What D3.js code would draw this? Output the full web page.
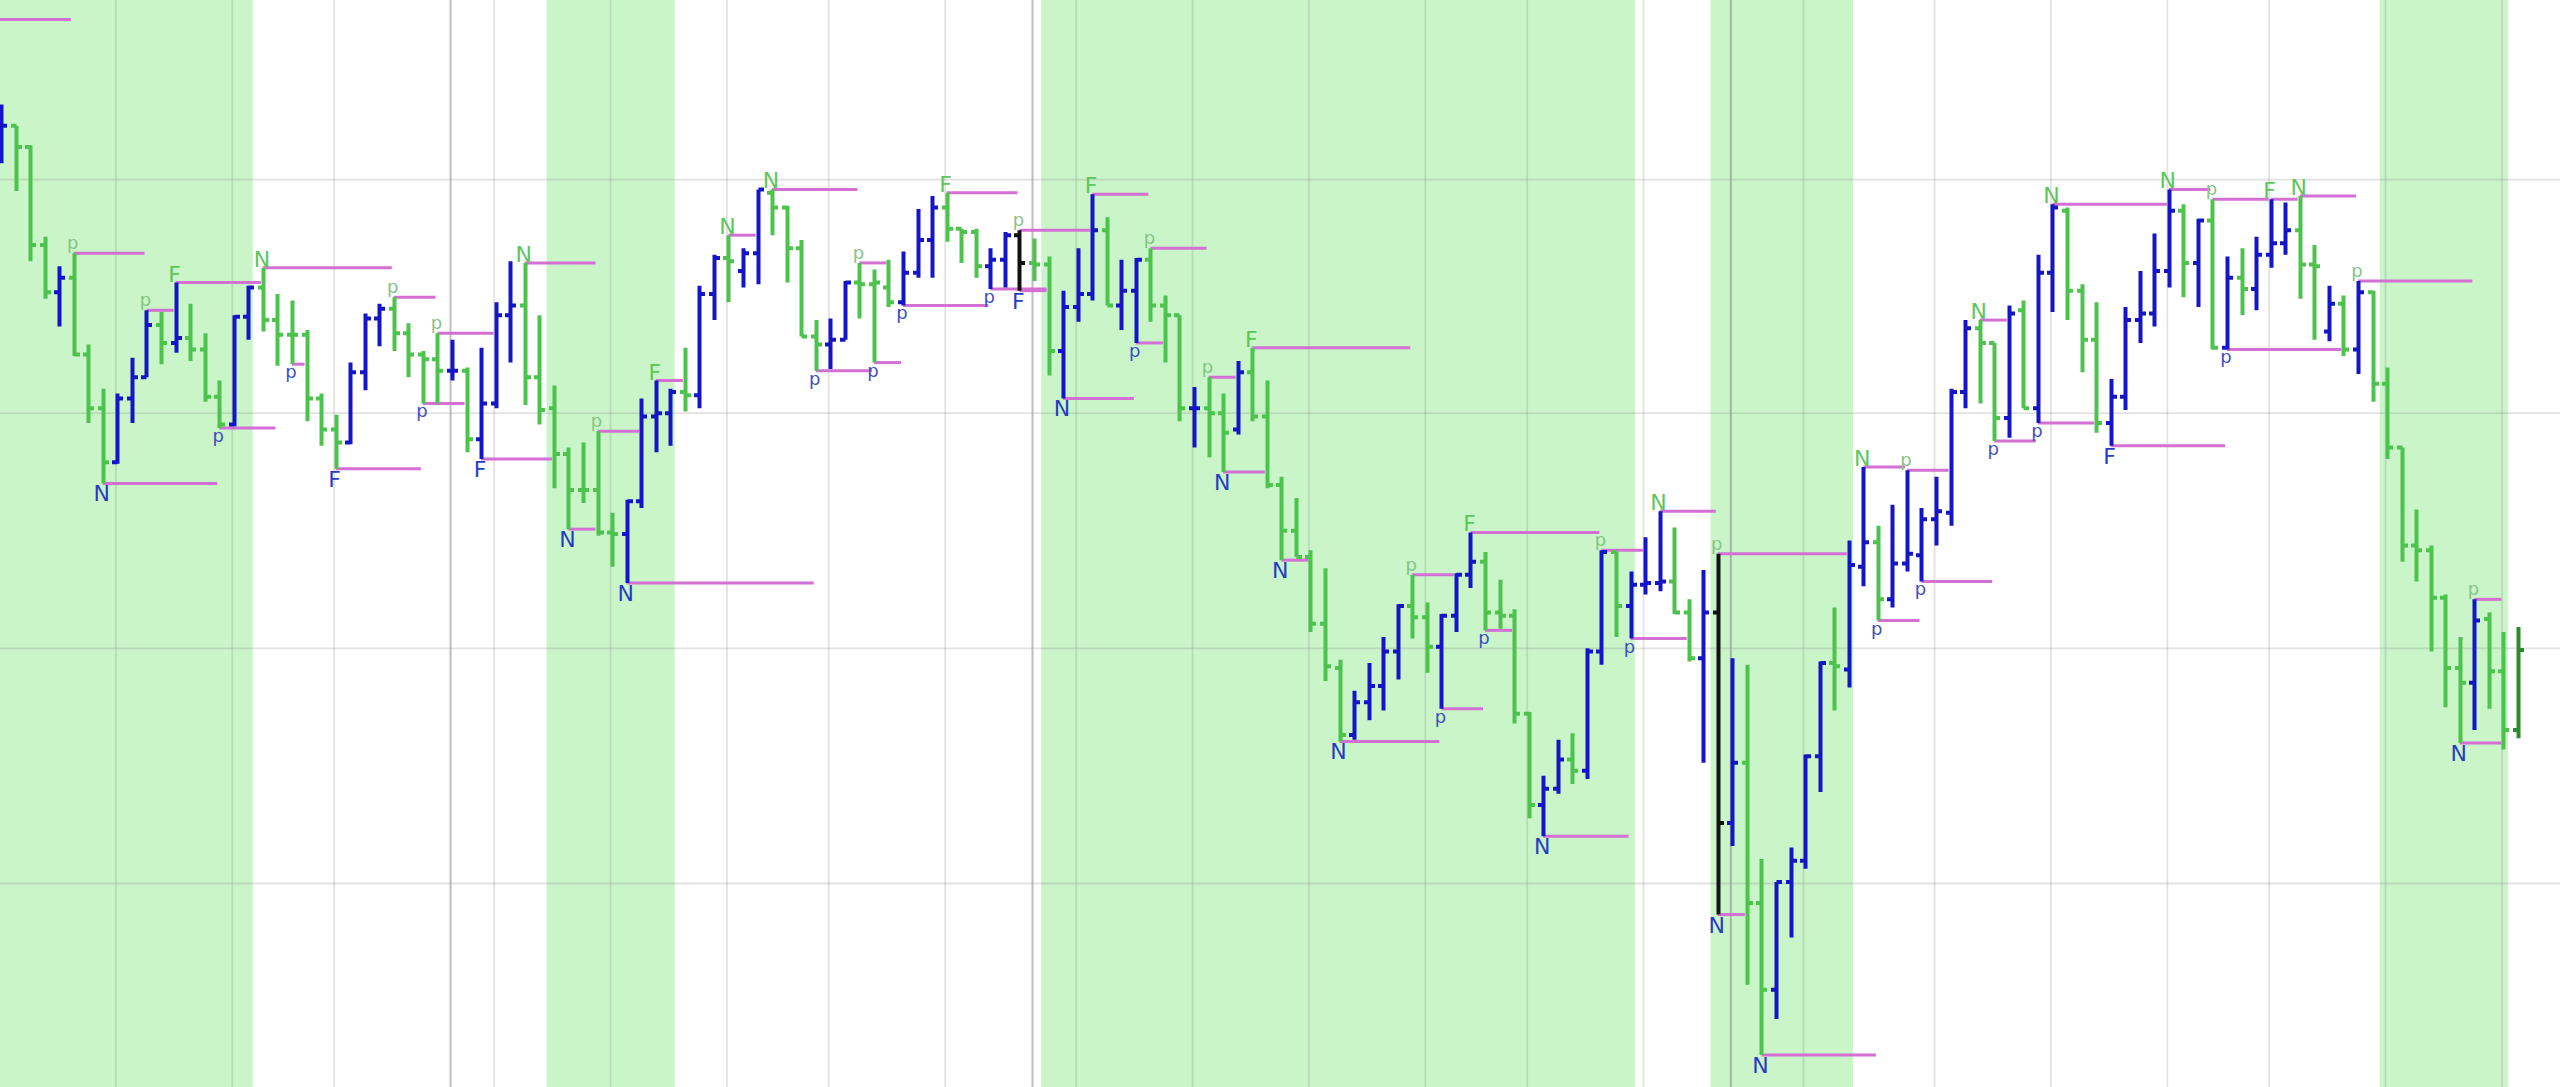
<!DOCTYPE html>
<html>
<head>
<meta charset="utf-8">
<script src="https://cdn.jsdelivr.net/npm/d3@7"></script>
<style>
html,body{margin:0;padding:0;background:#fff;overflow:hidden}
svg{display:block}
</style>
</head>
<body>
<svg id="chart" width="2560" height="1087"></svg>
<script>
// ---------------- DATA (price points, bar index = time) ----------------
const highs = [
636,623,611,555,537,545,489,462,459,481,
510,509,527,514,496,467,507,525,536,520,
516,498,459,446,478,508,514,518,502,485,
496,492,475,487,515,540,539,507,464,426,
429,436,386,394,456,467,462,487,525,544,
556,548,584,584,574,553,504,505,528,539,
535,541,546,572,580,582,560,560,548,558,
559,554,543,522,548,581,567,541,542,548,
519,507,463,469,459,479,487,467,408,395,
363,352,296,277,294,310,330,348,331,324,
349,374,362,345,327,264,225,247,251,303,
363,362,350,371,387,377,333,351,361,297,
293,174,160,181,238,295,328,369,414,378,
391,412,389,408,462,504,504,490,513,516,
544,575,573,526,515,468,512,534,557,584,
575,566,578,543,548,555,578,576,580,550,
525,519,528,522,475,426,388,366,336,310,
333,325,313,316];
const lows = [
600,583,540,517,500,482,441,404,416,441,
469,477,484,479,454,438,439,492,497,476,
477,442,427,413,428,461,488,485,469,453,
453,467,423,419,450,478,452,440,401,376,
392,372,353,343,389,423,427,448,450,504,
515,524,526,556,527,494,473,474,492,505,
478,512,513,530,530,552,539,530,523,524,
522,528,470,456,503,516,513,498,490,503,
478,442,426,420,411,434,442,401,357,359,
313,283,246,247,259,265,284,309,288,266,
313,340,314,315,257,199,188,214,220,223,
293,310,309,336,338,324,295,233,140,182,
97,54,76,126,168,215,265,279,341,320,
328,350,344,366,378,450,453,430,432,450,
441,509,504,472,435,427,449,490,500,524,
518,512,486,486,507,510,536,544,517,492,
491,482,471,454,419,356,344,301,267,245,
253,266,241,248];
const opens = [
610,623,610,550,521,530,483,450,417,456,
469,501,490,493,486,457,440,506,524,504,
495,495,456,437,429,472,505,511,496,483,
480,473,473,431,453,507,513,469,450,422,
400,400,374,373,393,445,447,460,458,520,
542,534,545,582,573,548,494,489,492,527,
526,524,515,533,553,573,560,558,537,541,
556,539,538,485,512,520,559,513,522,541,
513,507,450,450,447,437,472,445,403,375,
359,318,291,250,270,280,301,329,322,304,
323,348,356,325,323,263,207,217,235,228,
301,362,329,342,343,344,325,297,325,196,
233,147,94,160,173,237,294,290,353,368,
333,355,360,382,386,460,499,490,444,510,
450,533,571,522,492,441,457,504,508,534,
571,539,565,487,530,523,544,551,559,538,
497,514,486,521,465,426,366,363,334,291,
282,321,289,253];
const closes = [
623,610,550,521,530,483,450,417,456,469,
501,490,493,486,457,440,506,524,504,495,
495,456,437,429,472,505,511,496,483,480,
473,473,431,453,507,513,469,449,422,400,
400,374,373,393,445,447,460,458,520,542,
540,545,584,573,548,494,489,492,527,526,
527,515,533,553,573,560,558,537,541,556,
539,538,485,512,520,559,513,522,541,513,
507,450,450,447,435,472,445,403,375,359,
318,292,250,270,280,301,329,322,304,323,
348,356,325,323,263,207,217,235,228,301,
362,329,342,343,344,325,297,325,196,233,
147,94,160,173,237,294,292,354,368,333,
355,361,382,387,460,499,490,444,508,450,
533,573,522,492,441,457,504,508,534,571,
539,565,487,530,523,544,551,559,538,537,
514,486,521,465,426,366,363,334,291,282,
320,289,253,302];
// bar class: g = green, b = blue, k = black, d = dark green
const barClass = (
"bgggbgggbb"+"bgbgggbbgg"+"ggggbbbggg"+"gbgbbbgggg"+"gggbbbbgbb"+
"gbbggggbbg"+"ggbbbgggbb"+"kggbbbgbbg"+"ggbggbgggg"+"gggbbbbggb"+
"bbggggbbgb"+"bgbbbggbkb"+"ggbbbbgbbg"+"bbbbbbggbg"+"bbgggbbbbb"+
"gbgbgbbbgg"+"bgbggggggg"+"bggd").split("");

// pivot markers: bar index, text, side (hi/lo), bar where the level line ends
const pivotBar = [5,7,10,12,15,18,20,23,27,29, 30,33,36,39,41,43,45,50,53,56,
  59,60,62,65,68,70,70,73,75,78, 79,83,84,86,88,92,97,99,101,102,
  106,110,112,114,118,118,121,128,129,131, 132,136,137,140,141,145,149,152,153,156,
  158,162,169,170];
const pivotText = ["p","N","p","F","p","N","p","F","p","p", "p","F","N","N","p","N","F","N","N","p",
  "p","p","p","F","p","p","F","N","F","p", "p","p","N","F","N","N","p","p","F","p",
  "N","p","p","N","p","N","N","N","p","p", "p","N","p","p","N","F","N","p","p","F",
  "N","p","N","p"];
const pivotSide = ["hi","lo","hi","hi","lo","hi","lo","lo","hi","lo", "hi","lo","hi","lo","hi","lo","hi","hi","hi","lo",
  "hi","lo","lo","hi","lo","hi","lo","lo","hi","lo", "hi","hi","lo","hi","lo","lo","hi","lo","hi","lo",
  "lo","hi","lo","hi","hi","lo","lo","hi","lo","hi", "lo","hi","lo","lo","hi","lo","hi","hi","lo","hi",
  "hi","hi","lo","hi"];
const pivotLineEnd = [10,15,12,18,19,27,21,29,30,32, 34,38,41,41,44,56,47,52,59,60,
  61,62,68,70,72,75,72,78,79,80, 83,85,87,97,90,99,100,102,110,104,
  112,113,116,118,127,120,129,131,132,134, 137,138,140,144,149,153,152,156,161,158,
  162,170,172,172];
// a level line carried in from before the first visible bar
const carryLineStart = [-5];
const carryLineEnd = [4.8];
const carryLineLevel = [688];

// shaded sessions (bar index ranges)
const bandStart = [-5, 38, 72, 118, 164];
const bandEnd   = [17, 46, 112, 127, 172];
// time grid (bar indices) and price grid levels
const timeGrid = [8,16,23,31,34,42,50,57,65,71,74,82,90,98,105,113,119,124,133,141,149,156,164,172];
const timeGridMajor = [31,71,119];
const priceGrid = [590,447,303,159];

// ---------------- DRAWING ----------------
const W = 2560, H = 1087;
const svg = d3.select("#chart");
const x = d3.scaleLinear().domain([0, 173]).range([1, 2518]);
const y = d3.scaleLinear().domain([34.4, 700]).range([H, 0]);

const colors = {g:"#4cc34c", b:"#1515c8", k:"#111111", d:"#2b8c2b"};

svg.append("rect").attr("width", W).attr("height", H).attr("fill", "#ffffff");

// bands
svg.append("g").selectAll("rect").data(bandStart.map((s,i)=>[s, bandEnd[i]])).join("rect")
  .attr("x", d => x(d[0]-0.5))
  .attr("y", 0)
  .attr("width", d => x(d[1]+0.3) - x(d[0]-0.5))
  .attr("height", H)
  .attr("fill", "#c9f5c9");

// grid
const grid = svg.append("g");
grid.selectAll("line.v").data(timeGrid).join("line")
  .attr("class","v")
  .attr("x1", d => x(d) - 1.5).attr("x2", d => x(d) - 1.5)
  .attr("y1", 0).attr("y2", H)
  .attr("stroke", d => timeGridMajor.includes(d) ? "rgba(110,110,110,0.45)" : "rgba(140,140,140,0.25)")
  .attr("stroke-width", d => timeGridMajor.includes(d) ? 2 : 1.8);
grid.selectAll("line.h").data(priceGrid).join("line")
  .attr("class","h")
  .attr("x1", 0).attr("x2", W)
  .attr("y1", d => y(d)).attr("y2", d => y(d))
  .attr("stroke", "rgba(140,140,140,0.25)")
  .attr("stroke-width", 1.8);

// level lines
const lines = pivotBar.map((b,i) => ({
  x1: x(b), x2: x(pivotLineEnd[i]) - 2,
  v: pivotSide[i] === "hi" ? highs[b] : lows[b]
}));
carryLineStart.forEach((s,i) => lines.push({x1: x(s), x2: x(carryLineEnd[i]), v: carryLineLevel[i]}));
svg.append("g").selectAll("line").data(lines).join("line")
  .attr("x1", d => d.x1).attr("x2", d => d.x2)
  .attr("y1", d => y(d.v)).attr("y2", d => y(d.v))
  .attr("stroke", "#d46fd4")
  .attr("stroke-width", 3);

// OHLC bars
const tick = 5.5;
svg.append("g").selectAll("path").data(highs.map((h,i)=>i)).join("path")
  .attr("d", i => {
    const cx = Math.round(x(i)) + 0.5;
    return `M${cx},${y(highs[i])}V${y(lows[i])}` +
           `M${cx - tick},${y(opens[i])}H${cx}` +
           `M${cx},${y(closes[i])}H${cx + tick}`;
  })
  .attr("fill", "none")
  .attr("stroke", i => colors[barClass[i]])
  .attr("stroke-width", 4);

// pivot labels
svg.append("g").selectAll("text").data(pivotBar.map((b,i)=>i)).join("text")
  .attr("x", i => x(pivotBar[i]) - 1)
  .attr("y", i => {
    const b = pivotBar[i], t = pivotText[i];
    if (pivotSide[i] === "hi") return y(highs[b]) - (t === "p" ? 4 : 1);
    return y(lows[b]) + (t === "p" ? 14 : 18);
  })
  .attr("text-anchor", "middle")
  .attr("font-family", "DejaVu Sans, sans-serif")
  .attr("font-size", i => pivotText[i] === "p" ? 18 : 22)
  .attr("fill", i => pivotSide[i] === "hi"
      ? (pivotText[i] === "p" ? "#86c486" : "#5cc65c")
      : (pivotText[i] === "p" ? "#3f4fc4" : "#2a3bc2"))
  .text(i => pivotText[i]);
</script>
</body>
</html>
